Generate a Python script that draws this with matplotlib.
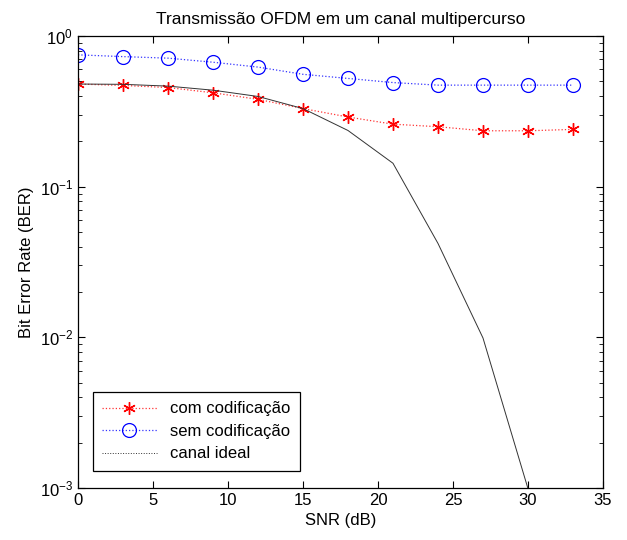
import numpy as np
import matplotlib
matplotlib.use("Agg")
import matplotlib.pyplot as plt

plt.rcParams['font.family'] = ['Liberation Sans', 'DejaVu Sans']

snr = [0, 3, 6, 9, 12, 15, 18, 21, 24, 27, 30, 33]
ber_cod = [0.48, 0.47, 0.455, 0.42, 0.38, 0.33, 0.29, 0.26, 0.25, 0.235, 0.235, 0.24]
ber_sem = [0.75, 0.73, 0.713, 0.67, 0.622, 0.557, 0.523, 0.491, 0.472, 0.472, 0.472, 0.472]
snr_ideal = [0, 3, 6, 9, 12, 15, 18, 21, 24, 27, 30]
ber_ideal = [0.48, 0.478, 0.465, 0.437, 0.397, 0.33, 0.236, 0.143, 0.042, 0.0099, 0.00099]

fig = plt.figure(figsize=(6.27, 5.4), dpi=100)
ax = fig.add_axes([0.1244, 0.0963, 0.8373, 0.837])

ax.semilogy(snr, ber_cod, color='#ff3333', linestyle=':', linewidth=0.9,
            marker=(6, 2, 0), markersize=9, markeredgewidth=1.0,
            markeredgecolor='red', label='com codificação')
ax.semilogy(snr, ber_sem, color='#3333ff', linestyle=':', linewidth=0.9,
            marker='o', markersize=10, markerfacecolor='none', markeredgewidth=0.9,
            markeredgecolor='blue', label='sem codificação')
ax.semilogy(snr_ideal, ber_ideal, color='#333333', linestyle='-', linewidth=0.7,
            label='canal ideal')

ax.set_xlim(0, 35)
ax.set_ylim(1e-3, 1)
ax.set_xticks([0, 5, 10, 15, 20, 25, 30, 35])
ax.tick_params(which='both', direction='in', top=True, right=True, labelsize=12)
ax.tick_params(which='major', length=5)
ax.tick_params(which='minor', length=3)
for s in ax.spines.values():
    s.set_linewidth(0.9)

ax.set_title('Transmissão OFDM em um canal multipercurso', fontsize=12.5, pad=9)
ax.set_xlabel('SNR (dB)', fontsize=12, labelpad=4)
ax.set_ylabel('Bit Error Rate (BER)', fontsize=12)

leg = ax.legend(loc='lower left', bbox_to_anchor=(0.012, 0.02), fontsize=12,
                fancybox=False, edgecolor='black', framealpha=1, borderpad=0.55,
                handlelength=3.3, labelspacing=0.45)
leg.get_frame().set_linewidth(0.9)
leg.get_lines()[2].set_linestyle(':')

fig.savefig('out.png', dpi=100)
